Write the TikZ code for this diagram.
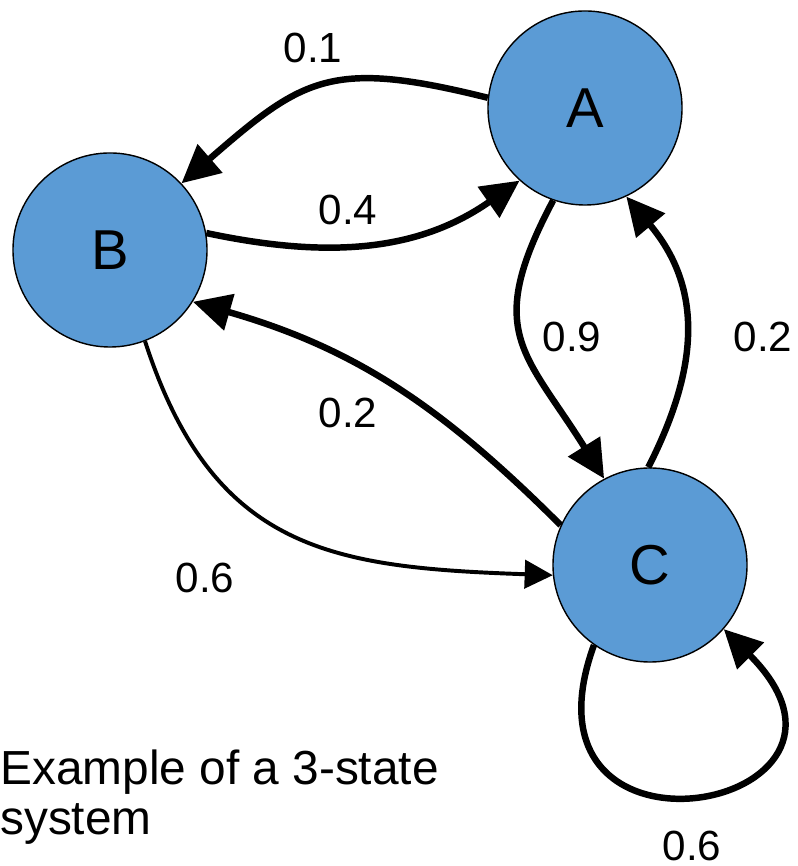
\documentclass[tikz,border=0pt]{standalone}
\usepackage{fontspec}
\setmainfont{Liberation Sans}
\usetikzlibrary{arrows.meta}
\definecolor{stateblue}{HTML}{5B9BD5}
\tikzstyle{state} = [circle, minimum size=4.85cm, inner sep=0pt, draw=black, line width=1pt, fill=stateblue, font=\fontsize{40}{44}\selectfont]
\tikzstyle{arrow} = [line width=4.6pt, -{Triangle[length=27pt, width=26pt]}]
\tikzstyle{thinarrow} = [line width=2.8pt, -{Triangle[length=20pt, width=20pt]}]
\tikzstyle{prob} = [font=\fontsize{30}{34}\selectfont, inner sep=0pt]

\begin{document}
\begin{tikzpicture}[x=0.025cm, y=0.025cm]
        \useasboundingbox (0,0) rectangle (797,866);
        \node (A) [state] at (585,758) {A};
        \node (B) [state] at (110,616) {B};
        \node (C) [state] at (650,301) {C};

        \node (pAB) [prob] at (313,818) {0.1};
        \node (pBA) [prob] at (348,656) {0.4};
        \node (pAC) [prob] at (572,529) {0.9};
        \node (pCA) [prob] at (763,529) {0.2};
        \node (pCB) [prob] at (348,453) {0.2};
        \node (pBC) [prob] at (205,288) {0.6};
        \node (pCC) [prob] at (692,20) {0.6};
        \node (caption) [anchor=north west, inner sep=0pt, align=left, font=\fontsize{34}{35.5}\selectfont] at (0,116) {Example of a 3-state\\system};

        \draw [arrow] (A.174) to[out=166, in=41, looseness=1.3] (B.43);
        \draw [arrow] (B.10) to[out=-12, in=215] (A.228);
        \draw [arrow] (A.251) to[out=242, in=122, looseness=1.35] (C.118);
        \draw [arrow] (C.91) to[out=63, in=-50, looseness=1.1] (A.-65);
        \draw [arrow] (C.156) to[out=135, in=-16] (B.-32);
        \draw [thinarrow] (B.-69) to[out=-72, in=178, looseness=1.2] (C.186);
        \draw [arrow] (C.235) to[out=-110, in=-45, looseness=5] (C.-41);
    \end{tikzpicture}
\end{document}
